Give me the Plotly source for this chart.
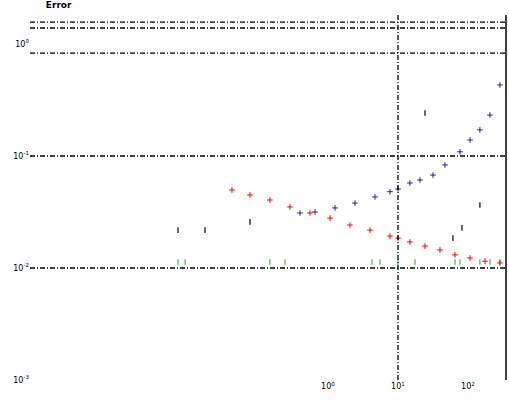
import plotly.graph_objects as go

# ---- data (log-log axes) ----
blue_x = [0.398, 0.652, 1.26, 2.43, 4.69, 7.69, 10.0, 14.8, 20.6, 31.6, 46.9, 76.9, 107, 148, 206, 286]
blue_y = [0.0310, 0.0316, 0.0344, 0.0380, 0.0431, 0.0480, 0.0507, 0.0574, 0.0611, 0.0676, 0.0832, 0.109, 0.139, 0.171, 0.232, 0.431]

red_x = [0.0425, 0.0769, 0.148, 0.286, 0.553, 1.07, 2.06, 3.98, 7.69, 10.0, 14.8, 24.3, 39.8, 65.2, 107, 175, 286]
red_y = [0.0497, 0.0449, 0.0405, 0.0351, 0.0310, 0.0279, 0.0242, 0.0218, 0.0193, 0.0185, 0.0171, 0.0157, 0.0145, 0.0131, 0.0123, 0.0115, 0.0111]

green_x = [0.0072, 0.0091, 0.148, 0.243, 4.25, 5.53, 10.0, 17.5, 65.2, 76.9, 148, 206, 286]
green_y = [0.0113] * 13

black_x = [0.0072, 0.0175, 0.0769, 24.3, 148, 82, 61]
black_y = [0.0218, 0.0218, 0.0258, 0.242, 0.0365, 0.0228, 0.0185]

ref_levels = [1.57, 1.39, 0.83, 0.1, 0.01]
ref_x = 10

x_ticks = [1, 10, 100]
x_labels = ["10<sup>0</sup>", "10<sup>1</sup>", "10<sup>2</sup>"]
y_ticks = [0.001, 0.01, 0.1, 1]
y_labels = ["10<sup>-3</sup>", "10<sup>-2</sup>", "10<sup>-1</sup>", "10<sup>0</sup>"]

dash_style = "5px,2px,1px,2px"

fig = go.Figure()

for lv in ref_levels:
    fig.add_hline(y=lv, line=dict(color="black", width=1.3, dash=dash_style))
fig.add_vline(x=ref_x, line=dict(color="black", width=1.3, dash=dash_style))

fig.add_trace(go.Scatter(x=green_x, y=green_y, mode="markers",
                         marker=dict(symbol="line-ns", size=4, color="#22aa22",
                                     line=dict(width=1, color="#22aa22"))))
fig.add_trace(go.Scatter(x=red_x, y=red_y, mode="markers",
                         marker=dict(symbol="cross-thin", size=4, color="red",
                                     line=dict(width=1, color="red"))))
fig.add_trace(go.Scatter(x=blue_x, y=blue_y, mode="markers",
                         marker=dict(symbol="cross-thin", size=4, color="#1f1fa0",
                                     line=dict(width=1, color="#1f1fa0"))))
fig.add_trace(go.Scatter(x=black_x, y=black_y, mode="markers",
                         marker=dict(symbol="line-ns", size=4, color="black",
                                     line=dict(width=1.2, color="black"))))

# right border line
fig.add_shape(type="line", xref="paper", yref="paper", x0=1, x1=1, y0=0, y1=1,
              line=dict(color="black", width=1.5))

fig.update_layout(
    width=509, height=411,
    margin=dict(l=30, r=3, t=15, b=31, autoexpand=False),
    paper_bgcolor="white", plot_bgcolor="white",
    showlegend=False,
    font=dict(family="DejaVu Sans", size=8, color="black"),
    title=dict(text="<b>Error</b>", x=0.09, xanchor="left", y=0.997, yanchor="top",
               font=dict(size=9, color="black")),
)
fig.update_xaxes(type="log", range=[-4.257, 2.543], tickvals=x_ticks, ticktext=x_labels,
                 showgrid=False, zeroline=False, automargin=False,
                 showline=False, ticks="", tickfont=dict(size=8))
fig.update_yaxes(type="log", range=[-3.0, 0.259], tickvals=y_ticks, ticktext=y_labels,
                 showgrid=False, zeroline=False, automargin=False,
                 showline=False, ticks="", tickfont=dict(size=8))

fig.write_html("out.html", config={"displayModeBar": False},
               post_script="document.body.style.margin='0px';document.body.style.overflow='hidden';")
